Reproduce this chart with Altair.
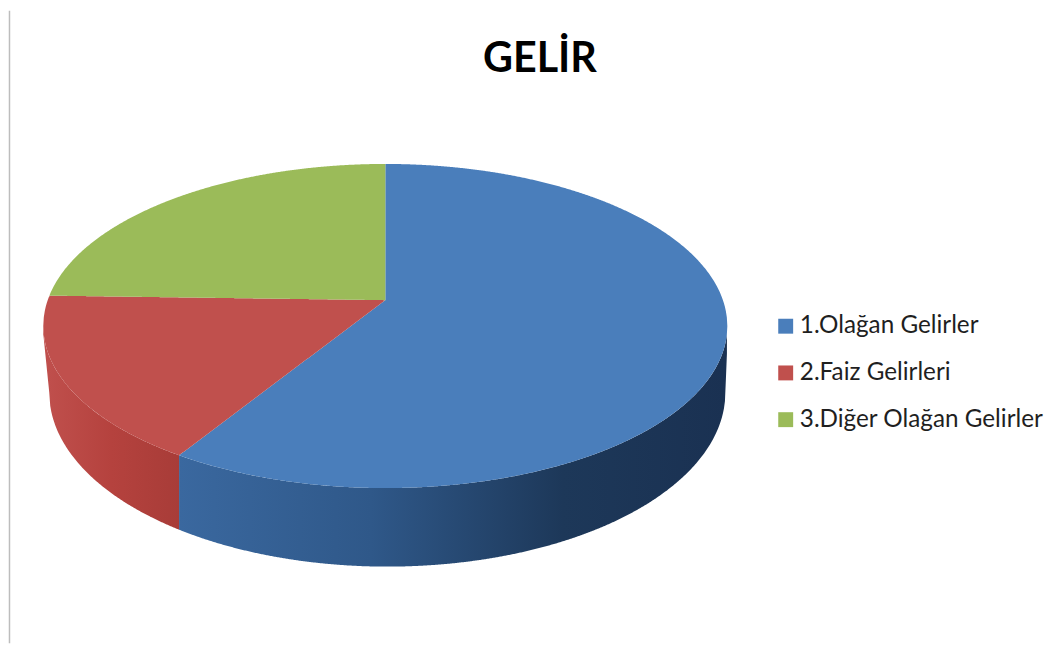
import numpy as np
import pandas as pd
import altair as alt

# Reference values
title_text = "GELİR"
categories = ["1.Olağan Gelirler", "2.Faiz Gelirleri", "3.Diğer Olağan Gelirler"]
shares = [60.3, 17.7, 22.0]
top_colors = ["#4A7EBB", "#C0504D", "#9BBB59"]

# 3D pie geometry (chart units = output pixels through linear scales)
CX, CY, RX, RY = 386.5, 327.0, 344.0, 163.0      # top face ellipse
AX, AY = 386.5, 301.0                            # apex of the wedges
LCX, LCY, LRX, LRY = 388.5, 394.0, 340.0, 175.0  # bottom rim
PLOT_TOP, PLOT_BOTTOM = 32.0, 646.0


def rim(t):
    return CX + RX * np.sin(t), CY - RY * np.cos(t)


def top_edge_low(x):
    u = np.clip((x - CX) / RX, -1, 1)
    return CY + RY * np.sqrt(1 - u * u)


def bottom_edge(x):
    u = (x - LCX) / LRX
    inside = np.abs(u) <= 1
    y = np.where(inside, LCY + LRY * np.sqrt(np.clip(1 - u * u, 0, 1)), 0.0)
    left = x < LCX - LRX
    right = x > LCX + LRX
    y = np.where(left, 335 + (x - CX + RX) / (LCX - LRX - CX + RX) * (LCY - 335), y)
    y = np.where(right, 345 + (CX + RX - x) / (CX + RX - LCX - LRX) * (LCY - 345), y)
    return y


def sector_frame(name, t0, t1):
    ts = np.linspace(t0, t1, 500)
    px, py = rim(ts)
    px = np.concatenate([[AX], px, [AX]])
    py = np.concatenate([[AY], py, [AY]])
    xmin, xmax = px.min(), px.max()
    xs = np.arange(np.floor(xmin), np.ceil(xmax) + 1, 1.0)
    xs = np.concatenate([xs, [xmin + 1e-3, xmax - 1e-3, AX - 1e-3, AX + 1e-3]])
    xs = np.unique(xs[(xs > xmin) & (xs < xmax)])
    rows = []
    for x in xs:
        a, b = px[:-1], px[1:]
        hit = ((a - x) * (b - x) <= 0) & (a != b)
        if not hit.any():
            continue
        ys = py[:-1][hit] + (x - a[hit]) / (b[hit] - a[hit]) * (py[1:][hit] - py[:-1][hit])
        rows.append((name, x, ys.min(), ys.max()))
    return pd.DataFrame(rows, columns=["kategori", "x", "y", "y2"])


def wall_frame(x0, x1):
    xs = np.arange(x0, x1 + 0.5, 1.0)
    return pd.DataFrame({"x": xs, "y": top_edge_low(xs), "y2": bottom_edge(xs)})


cum = np.cumsum([0] + shares) / sum(shares) * 2 * np.pi
sectors = pd.concat(
    [sector_frame(c, cum[i], cum[i + 1]) for i, c in enumerate(categories)],
    ignore_index=True,
)
split_x = float(rim(cum[1])[0])

x_scale = alt.Scale(domain=[8, 1044], nice=False, zero=False)
y_scale = alt.Scale(domain=[PLOT_BOTTOM, PLOT_TOP], nice=False, zero=False)
X = alt.X("x:Q", scale=x_scale, axis=None)
Y = alt.Y("y:Q", scale=y_scale, axis=None)


def grad(stops):
    return alt.Gradient(
        gradient="linear", x1=0, y1=0, x2=1, y2=0,
        stops=[alt.GradientStop(offset=o, color=c) for o, c in stops],
    )


red_wall = alt.Chart(wall_frame(CX - RX, split_x)).mark_area(
    fill=grad([(0, "#C0504D"), (0.5, "#B5423E"), (1, "#A83C38")])
).encode(x=X, y=Y, y2="y2:Q")

blue_wall = alt.Chart(wall_frame(split_x, CX + RX)).mark_area(
    fill=grad([(0, "#3A689F"), (0.35, "#2F5889"), (0.7, "#1D3859"), (1, "#1A3152")])
).encode(x=X, y=Y, y2="y2:Q")

faces = alt.Chart(sectors).mark_area().encode(
    x=X,
    y=Y,
    y2="y2:Q",
    color=alt.Color(
        "kategori:N",
        scale=alt.Scale(domain=categories, range=top_colors),
        legend=alt.Legend(
            title=None,
            orient="none",
            legendX=769,
            legendY=283,
            symbolType="square",
            symbolSize=225,
            symbolStrokeWidth=0,
            labelFont="Lato",
            labelFontSize=24.4,
            labelColor="#1f1f1f",
            labelLimit=300,
            rowPadding=22,
            labelOffset=2,
        ),
    ),
)

edge = alt.Chart(pd.DataFrame({"x": [8.5]})).mark_rule(color="#BDBDBD", strokeWidth=1.5).encode(
    x=X, y=alt.value(-22), y2=alt.value(PLOT_BOTTOM - PLOT_TOP)
)

chart = (
    alt.layer(edge, red_wall, blue_wall, faces)
    .properties(
        width=1036,
        height=PLOT_BOTTOM - PLOT_TOP,
        padding=0,
        background="#FFFFFF",
        title=alt.TitleParams(
            title_text,
            font="Lato",
            fontSize=41.5,
            fontWeight="bold",
            color="#000000",
            anchor="middle",
            dx=16,
            offset=-71,
        ),
    )
    .configure_view(stroke=None)
)

chart.save("out.html", embed_options={"renderer": "svg", "actions": False})
